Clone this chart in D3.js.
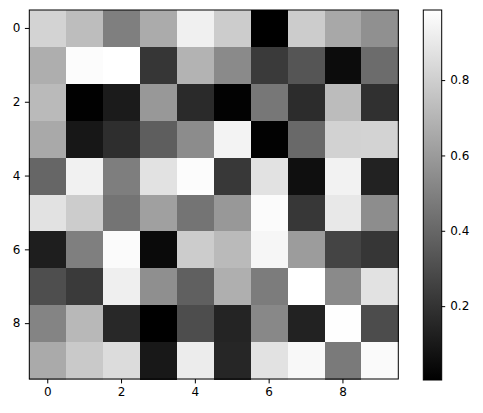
<!DOCTYPE html>
<html>
<head>
<meta charset="utf-8">
<script src="https://cdn.jsdelivr.net/npm/d3@7"></script>
<style>
  html, body { margin: 0; padding: 0; background: #fff; }
  svg { display: block; }
  text { font-family: "DejaVu Sans", sans-serif; }
</style>
</head>
<body>
<svg id="chart" width="483" height="413"></svg>
<script>
const rowIndex = [0, 1, 2, 3, 4, 5, 6, 7, 8, 9];
const colIndex = [0, 1, 2, 3, 4, 5, 6, 7, 8, 9];
const xTicks = [0, 2, 4, 6, 8];
const yTicks = [0, 2, 4, 6, 8];
const colorbarTicks = [0.2, 0.4, 0.6, 0.8];
const values = [
  [0.816, 0.732, 0.493, 0.662, 0.928, 0.789, 0.004, 0.789, 0.651, 0.558],
  [0.674, 0.974, 0.986, 0.212, 0.693, 0.535, 0.227, 0.331, 0.050, 0.420],
  [0.720, 0.006, 0.108, 0.589, 0.166, 0.012, 0.462, 0.173, 0.728, 0.189],
  [0.655, 0.093, 0.181, 0.366, 0.543, 0.940, 0.012, 0.408, 0.812, 0.816],
  [0.397, 0.932, 0.489, 0.874, 0.974, 0.220, 0.874, 0.062, 0.936, 0.135],
  [0.874, 0.789, 0.451, 0.620, 0.451, 0.589, 0.970, 0.216, 0.897, 0.547],
  [0.120, 0.493, 0.970, 0.043, 0.789, 0.720, 0.951, 0.605, 0.266, 0.212],
  [0.304, 0.227, 0.924, 0.555, 0.374, 0.678, 0.481, 0.985, 0.535, 0.874],
  [0.512, 0.712, 0.158, 0.005, 0.300, 0.143, 0.528, 0.135, 0.982, 0.297],
  [0.659, 0.778, 0.851, 0.096, 0.913, 0.150, 0.874, 0.959, 0.474, 0.967]
];

const svg = d3.select("#chart");
const plotLeft = 29.3, plotTop = 10, plotSize = 369;

const flat = values.flat();
const vmin = d3.min(flat), vmax = d3.max(flat);
const color = d3.scaleLinear().domain([vmin, vmax]).range(["#000000", "#ffffff"]).clamp(true);

const x = d3.scaleBand().domain(colIndex).range([plotLeft, plotLeft + plotSize]).padding(0);
const y = d3.scaleBand().domain(rowIndex).range([plotTop, plotTop + plotSize]).padding(0);

const cells = [];
values.forEach((row, r) => row.forEach((v, c) => cells.push({r, c, v})));

svg.append("g").selectAll("rect").data(cells).join("rect")
  .attr("x", d => x(d.c))
  .attr("y", d => y(d.r))
  .attr("width", x.bandwidth() + 0.5)
  .attr("height", y.bandwidth() + 0.5)
  .attr("fill", d => color(d.v))
  .attr("shape-rendering", "crispEdges");

svg.append("rect")
  .attr("x", plotLeft).attr("y", plotTop).attr("width", plotSize).attr("height", plotSize)
  .attr("fill", "none").attr("stroke", "#000").attr("stroke-width", 1);

function styleAxis(g) {
  g.select(".domain").remove();
  g.selectAll(".tick line").attr("stroke", "#000").attr("stroke-width", 1);
  g.selectAll(".tick text").attr("fill", "#000").style("font-size", "12px").style("font-family", "DejaVu Sans, sans-serif");
}

const xAxis = d3.axisBottom(x).tickValues(xTicks).tickSize(4.4).tickPadding(4.5);
svg.append("g").attr("transform", `translate(0,${plotTop + plotSize})`).call(xAxis).call(styleAxis);

const yAxis = d3.axisLeft(y).tickValues(yTicks).tickSize(4.4).tickPadding(4.5);
svg.append("g").attr("transform", `translate(${plotLeft},0)`).call(yAxis).call(styleAxis);

// Colorbar
const cbX = 423.3, cbW = 18.4, cbTop = 10, cbBottom = 380;
const defs = svg.append("defs");
const grad = defs.append("linearGradient").attr("id", "cbgrad")
  .attr("x1", "0").attr("y1", "1").attr("x2", "0").attr("y2", "0");
grad.append("stop").attr("offset", "0%").attr("stop-color", color(vmin));
grad.append("stop").attr("offset", "100%").attr("stop-color", color(vmax));

svg.append("rect").attr("x", cbX).attr("y", cbTop).attr("width", cbW).attr("height", cbBottom - cbTop)
  .attr("fill", "url(#cbgrad)").attr("stroke", "#000").attr("stroke-width", 1);

const cbScale = d3.scaleLinear().domain([vmin, vmax]).range([cbBottom, cbTop]);
const cbAxis = d3.axisRight(cbScale).tickValues(colorbarTicks).tickFormat(d3.format(".1f")).tickSize(3.5).tickPadding(5);
svg.append("g").attr("transform", `translate(${cbX + cbW},0)`).call(cbAxis).call(styleAxis);
</script>
</body>
</html>
